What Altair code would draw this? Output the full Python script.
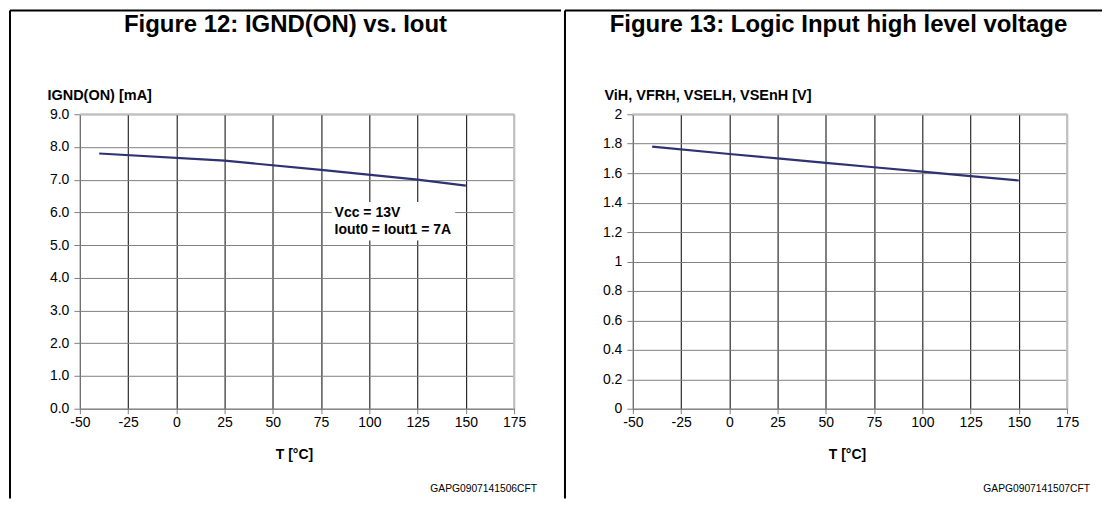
import altair as alt
import pandas as pd

# ---- data ----
t12 = [-40, 25, 75, 125, 150]
ignd = [7.80, 7.58, 7.30, 7.00, 6.82]
t13 = [-40, 0, 25, 50, 75, 100, 125, 150]
vih = [1.78, 1.73, 1.70, 1.67, 1.64, 1.61, 1.58, 1.55]

x_ticks = [-50, -25, 0, 25, 50, 75, 100, 125, 150, 175]
y12_ticks = [0, 1, 2, 3, 4, 5, 6, 7, 8, 9]
y13_ticks = [0, 0.2, 0.4, 0.6, 0.8, 1, 1.2, 1.4, 1.6, 1.8, 2]

titles = ["Figure 12: IGND(ON) vs. Iout", "Figure 13: Logic Input high level voltage"]
y_titles = ["IGND(ON) [mA]", "ViH, VFRH, VSELH, VSEnH [V]"]
x_title = "T [°C]"
codes = ["GAPG0907141506CFT", "GAPG0907141507CFT"]
note_lines = ["Vcc = 13V", "Iout0 = Iout1 = 7A"]

FONT = "Liberation Sans"
W, H = 435, 295
LINE_COLOR = "#2E3172"
ONE = pd.DataFrame({"k": [0]})


def panel(tvals, yvals, yticks, ydomain, ylabel_expr, title, ytitle, code,
          left_off, right_end, title_cx, ytitle_x, note=None):
    df = pd.DataFrame({"T": tvals, "V": yvals})
    xscale = alt.Scale(domain=[-50, 175], nice=False, zero=False)
    yscale = alt.Scale(domain=ydomain, nice=False, zero=False)
    xaxis = alt.Axis(values=x_ticks, title=x_title, grid=True, gridColor="#000000",
                     gridWidth=1, domainColor="#808080", tickColor="#808080",
                     tickSize=5, labelPadding=2, labelFont=FONT, labelFontSize=14,
                     labelColor="#000", labelExpr="'' + datum.value",
                     titleFont=FONT, titleFontSize=14,
                     titleFontWeight="bold", titleColor="#000",
                     titleX=W / 2 - 3, titleY=46, titleBaseline="middle",
                     titleAlign="center", labelFlush=False, labelOverlap=False)
    yaxis = alt.Axis(values=yticks, labelExpr=ylabel_expr, title=ytitle, grid=True,
                     gridColor="#808080", gridWidth=1, domainColor="#808080",
                     tickColor="#808080", tickSize=6, labelPadding=5,
                     labelFont=FONT, labelFontSize=14, labelColor="#000",
                     titleFont=FONT, titleFontSize=14.5, titleFontWeight="bold",
                     titleColor="#000", titleAngle=0, titleAlign="left",
                     titleBaseline="middle", titleX=ytitle_x, titleY=-19,
                     labelFlush=False, labelOverlap=False)

    line = alt.Chart(df).mark_line(color=LINE_COLOR, strokeWidth=2.2).encode(
        x=alt.X("T:Q", scale=xscale, axis=xaxis),
        y=alt.Y("V:Q", scale=yscale, axis=yaxis),
    )

    layers = [line]

    if note is not None:
        bx = pd.DataFrame({"x": [80.5], "x2": [144.5], "y": [5.14], "y2": [6.32]})
        box = alt.Chart(bx).mark_rect(color="white").encode(
            x=alt.X("x:Q", scale=xscale, axis=xaxis), x2="x2",
            y=alt.Y("y:Q", scale=yscale, axis=yaxis), y2="y2")
        tx = pd.DataFrame({"x": [82, 82], "y": [5.97, 5.46], "t": note})
        txt = alt.Chart(tx).mark_text(align="left", baseline="middle", font=FONT,
                                      fontSize=14, fontWeight="bold", color="#000").encode(
            x=alt.X("x:Q", scale=xscale, axis=xaxis),
            y=alt.Y("y:Q", scale=yscale, axis=yaxis), text="t:N")
        layers = [box, txt, line]

    # plot frame top & right (light gray)
    frame_top = alt.Chart(ONE).mark_rule(color="#c0c0c0", strokeWidth=2).encode(
        x=alt.value(0), x2=alt.value(W), y=alt.value(0))
    frame_right = alt.Chart(ONE).mark_rule(color="#c0c0c0", strokeWidth=2).encode(
        x=alt.value(W), y=alt.value(0), y2=alt.value(H))
    # outer figure borders
    border_left = alt.Chart(ONE).mark_rule(color="#000", strokeWidth=2).encode(
        x=alt.value(left_off), y=alt.value(-104), y2=alt.value(385))
    border_top = alt.Chart(ONE).mark_rule(color="#000", strokeWidth=2).encode(
        x=alt.value(left_off), x2=alt.value(right_end), y=alt.value(-104))

    title_mark = alt.Chart(ONE).mark_text(font=FONT, fontSize=24, fontWeight="bold",
                                          align="center", baseline="middle", color="#000").encode(
        x=alt.value(title_cx), y=alt.value(-89), text=alt.value(title))
    code_mark = alt.Chart(ONE).mark_text(font=FONT, fontSize=10.3, fontWeight="normal",
                                         align="right", baseline="middle", color="#000").encode(
        x=alt.value(458), y=alt.value(375), text=alt.value(code))

    layers += [frame_top, frame_right, border_left, border_top, title_mark, code_mark]
    return alt.layer(*layers).properties(width=W, height=H)


left = panel(t12, ignd, y12_ticks, [0, 9], "format(datum.value, '.1f')", titles[0],
             y_titles[0], codes[0], -70, 482, 206, -33, note=note_lines)
right = panel(t13, vih, y13_ticks, [0, 2], "'' + datum.value", titles[1], y_titles[1],
              codes[1], -68, 470, 206, -29)

chart = alt.hconcat(left, right, spacing=0).properties(padding=0).configure_view(
    stroke=None).configure(background="white")

chart.save("out.html", embed_options={"renderer": "svg", "actions": False})
